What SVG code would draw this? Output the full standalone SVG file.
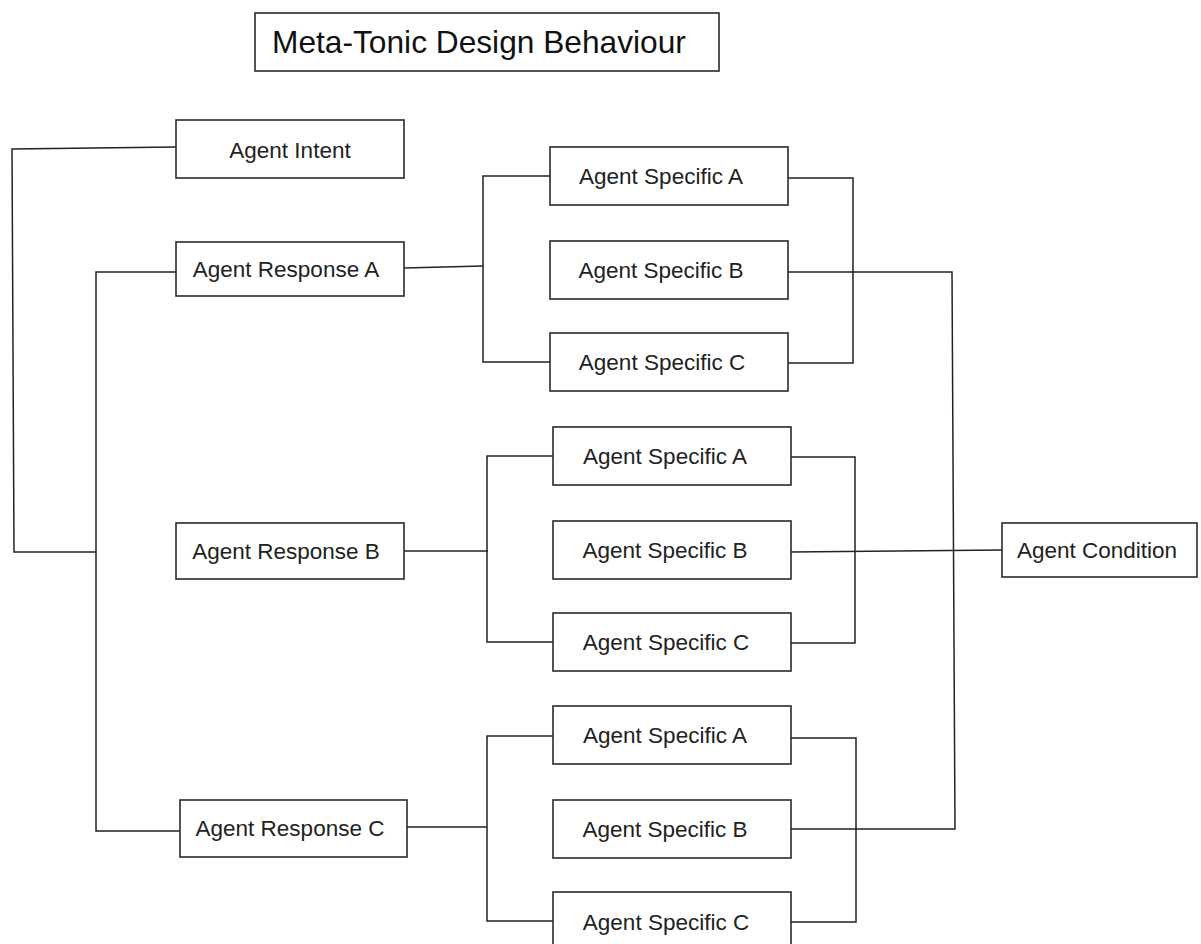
<svg xmlns="http://www.w3.org/2000/svg" width="1201" height="944" viewBox="0 0 1201 944">
<style>
.box{fill:#fff;stroke:#2a2a2a;stroke-width:1.6}
.lbl{font-family:"Liberation Sans",Arial,sans-serif;font-size:22.5px;fill:#222;text-anchor:middle}
.ttl{font-family:"Liberation Sans",Arial,sans-serif;font-size:31.7px;fill:#111}
.ln{fill:none;stroke:#222;stroke-width:1.5}
</style>
<rect width="1201" height="944" fill="#fff"/>
<g id="connectors">
<polyline class="ln" points="176,147 12,149 14,552 96,552"/>
<polyline class="ln" points="176,272 96,272 96,831 180,831"/>
<polyline class="ln" points="404,268 483,266"/>
<polyline class="ln" points="550,176 483,176 483,362 550,362"/>
<polyline class="ln" points="788,178 853,178 853,363 788,363"/>
<polyline class="ln" points="788,272 952,272 955,829 791,829"/>
<polyline class="ln" points="404,551 488,551"/>
<polyline class="ln" points="553,456 487,456 487,642 553,642"/>
<polyline class="ln" points="791,457 855,457 855,643 791,643"/>
<polyline class="ln" points="791,552 1002,550"/>
<polyline class="ln" points="407,827 487,827"/>
<polyline class="ln" points="553,736 487,736 487,921 553,921"/>
<polyline class="ln" points="791,738 856,738 856,922 791,922"/>
</g>
<g id="title"><rect class="box" x="255" y="13" width="464" height="58"/><text class="ttl" x="272" y="53">Meta-Tonic Design Behaviour</text></g>
<g id="agent-intent"><rect class="box" x="176" y="120" width="228" height="58"/><text class="lbl" x="290" y="158">Agent Intent</text></g>
<g id="response-a"><rect class="box" x="176" y="242" width="228" height="54"/><text class="lbl" x="286" y="277">Agent Response A</text></g>
<g id="response-b"><rect class="box" x="176" y="523" width="228" height="56"/><text class="lbl" x="286" y="559">Agent Response B</text></g>
<g id="response-c"><rect class="box" x="180" y="800" width="227" height="57"/><text class="lbl" x="290" y="836">Agent Response C</text></g>
<g id="spec-a1"><rect class="box" x="550" y="147" width="238" height="58"/><text class="lbl" x="661" y="184">Agent Specific A</text></g>
<g id="spec-b1"><rect class="box" x="550" y="241" width="238" height="58"/><text class="lbl" x="661" y="278">Agent Specific B</text></g>
<g id="spec-c1"><rect class="box" x="550" y="333" width="238" height="58"/><text class="lbl" x="662" y="370">Agent Specific C</text></g>
<g id="spec-a2"><rect class="box" x="553" y="427" width="238" height="58"/><text class="lbl" x="665" y="464">Agent Specific A</text></g>
<g id="spec-b2"><rect class="box" x="553" y="521" width="238" height="58"/><text class="lbl" x="665" y="558">Agent Specific B</text></g>
<g id="spec-c2"><rect class="box" x="553" y="613" width="238" height="58"/><text class="lbl" x="666" y="650">Agent Specific C</text></g>
<g id="spec-a3"><rect class="box" x="553" y="706" width="238" height="58"/><text class="lbl" x="665" y="743">Agent Specific A</text></g>
<g id="spec-b3"><rect class="box" x="553" y="800" width="238" height="58"/><text class="lbl" x="665" y="837">Agent Specific B</text></g>
<g id="spec-c3"><rect class="box" x="553" y="892" width="238" height="58"/><text class="lbl" x="666" y="930">Agent Specific C</text></g>
<g id="agent-condition"><rect class="box" x="1002" y="523" width="195" height="54"/><text class="lbl" x="1097" y="558">Agent Condition</text></g>
</svg>
